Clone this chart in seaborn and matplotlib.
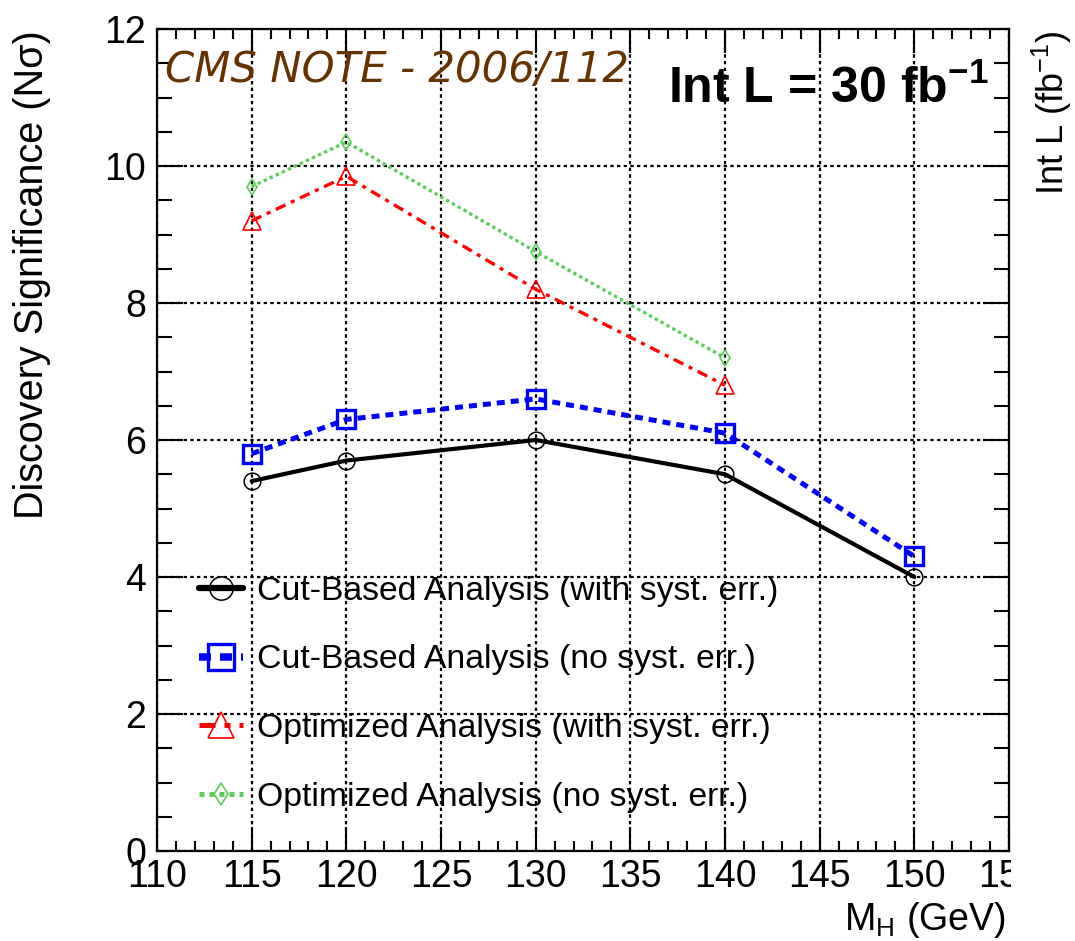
import matplotlib
matplotlib.use("Agg")
import matplotlib.pyplot as plt
import seaborn as sns
from matplotlib.patches import Rectangle
from matplotlib.ticker import MultipleLocator

# Higgs mass points (GeV) and discovery significance (N sigma)
mass_cut = [115, 120, 130, 140, 150]
cut_with_syst = [5.4, 5.7, 6.0, 5.5, 4.0]
cut_no_syst = [5.8, 6.3, 6.6, 6.1, 4.3]

mass_opt = [115, 120, 130, 140]
opt_with_syst = [9.2, 9.85, 8.2, 6.8]
opt_no_syst = [9.7, 10.35, 8.75, 7.2]

series_labels = [
    "Cut-Based Analysis (with syst. err.)",
    "Cut-Based Analysis (no syst. err.)",
    "Optimized Analysis (with syst. err.)",
    "Optimized Analysis (no syst. err.)",
]
x_ticks = [110, 115, 120, 125, 130, 135, 140, 145, 150, 155]
y_ticks = [0, 2, 4, 6, 8, 10, 12]

sns.set_style("white")
plt.rcParams["font.family"] = ["Liberation Sans", "DejaVu Sans"]
plt.rcParams["mathtext.fontset"] = "custom"
plt.rcParams["mathtext.rm"] = "Liberation Sans"
plt.rcParams["mathtext.it"] = "Liberation Sans:italic"
plt.rcParams["mathtext.bf"] = "Liberation Sans:bold"
for key in ("text.color", "axes.labelcolor", "xtick.color", "ytick.color",
            "xtick.labelcolor", "ytick.labelcolor"):
    plt.rcParams[key] = "black"

W, H = 1075, 941
fig = plt.figure(figsize=(W / 100, H / 100), dpi=100)
ax = fig.add_axes([157 / W, 90 / H, (1009 - 157) / W, (851 - 29) / H])

styles = [
    dict(color="black", linestyle="-", linewidth=3.0, marker="o",
         markersize=12, markeredgewidth=1.1),
    dict(color="#0000ff", linestyle=(0, (1.6, 1.2)), linewidth=3.6, marker="s",
         markersize=13, markeredgewidth=2.4),
    dict(color="#ff0000", linestyle=(0, (3.2, 1.8, 1.2, 1.8)), linewidth=2.4,
         marker="^", markersize=13, markeredgewidth=1.2),
    dict(color="#5ccd5c", linestyle=(0, (1.0, 1.0)), linewidth=2.4,
         marker="d", markersize=8, markeredgewidth=1.2),
]
series = [
    (mass_cut, cut_with_syst),
    (mass_cut, cut_no_syst),
    (mass_opt, opt_with_syst),
    (mass_opt, opt_no_syst),
]

for (xs, ys), label, st in zip(series, series_labels, styles):
    sns.lineplot(x=xs, y=ys, ax=ax, errorbar=None, label=label,
                 markerfacecolor="none", markeredgecolor=st["color"], **st)

# Axes ranges, ticks and dotted grid
ax.set_xlim(110, 155)
ax.set_ylim(0, 12)
ax.set_xticks(x_ticks)
ax.set_xticklabels([str(t) for t in x_ticks])
ax.set_yticks(y_ticks)
ax.set_yticklabels([str(t) for t in y_ticks])
ax.xaxis.set_minor_locator(MultipleLocator(1))
ax.yaxis.set_minor_locator(MultipleLocator(0.5))
ax.set_axisbelow(True)
ax.grid(True, which="major", color="black", linestyle=(0, (1.5, 1.5)), linewidth=1.6)
ax.tick_params(which="both", direction="in", top=True, right=True,
               bottom=True, left=True, color="black", width=1.5,
               labelcolor="black")
ax.tick_params(axis="x", which="major", length=17, pad=6, labelsize=27)
ax.tick_params(axis="x", which="minor", length=7)
ax.tick_params(axis="y", which="major", length=19, pad=8, labelsize=27)
ax.tick_params(axis="y", which="minor", length=11)
for sp in ax.spines.values():
    sp.set_color("black")
    sp.set_linewidth(1.6)
ax.set_xlabel("")
ax.set_ylabel("")

# Legend without frame inside the lower-left part of the frame
leg = ax.legend(loc="upper left", bbox_to_anchor=(0.049, 0.335), frameon=False,
                fontsize=24.3, handlelength=1.3, handletextpad=0.42,
                labelspacing=1.12, borderpad=0, borderaxespad=0, markerscale=1.4)
for line in leg.get_lines():
    line.set_linewidth(line.get_linewidth() * 1.5)
for txt in leg.get_texts():
    txt.set_color("black")

# Annotations
fig.text(165 / W, 1 - 82 / H, "CMS NOTE - 2006/112", family="DejaVu Sans",
         style="italic", fontsize=30.2, color="#663300", ha="left", va="baseline")
fig.text(668 / W, 1 - 103 / H, r"Int L = 30 fb$^{\mathbf{-1}}$", fontweight="bold",
         fontsize=36, color="black", ha="left", va="baseline")

# Axis titles
fig.text(32 / W, 1 - 30 / H, "Discovery Significance (N\u03c3)", rotation=90,
         ha="center", va="top", fontsize=28.5)
fig.text(1052 / W, 1 - 30 / H, r"Int L (fb$^{-1}$)", rotation=90,
         ha="center", va="top", fontsize=26)
fig.text(1006 / W, 1 - 930 / H, r"M$_{\mathrm{H}}$ (GeV)", ha="right",
         va="baseline", fontsize=27)

# Mask beyond the right edge of the frame below the axis
fig.add_artist(Rectangle((1011 / W, (H - 905) / H), 64 / W, 50 / H,
                         transform=fig.transFigure, facecolor="white",
                         edgecolor="none", zorder=5))

fig.savefig("out.png", dpi=100)
